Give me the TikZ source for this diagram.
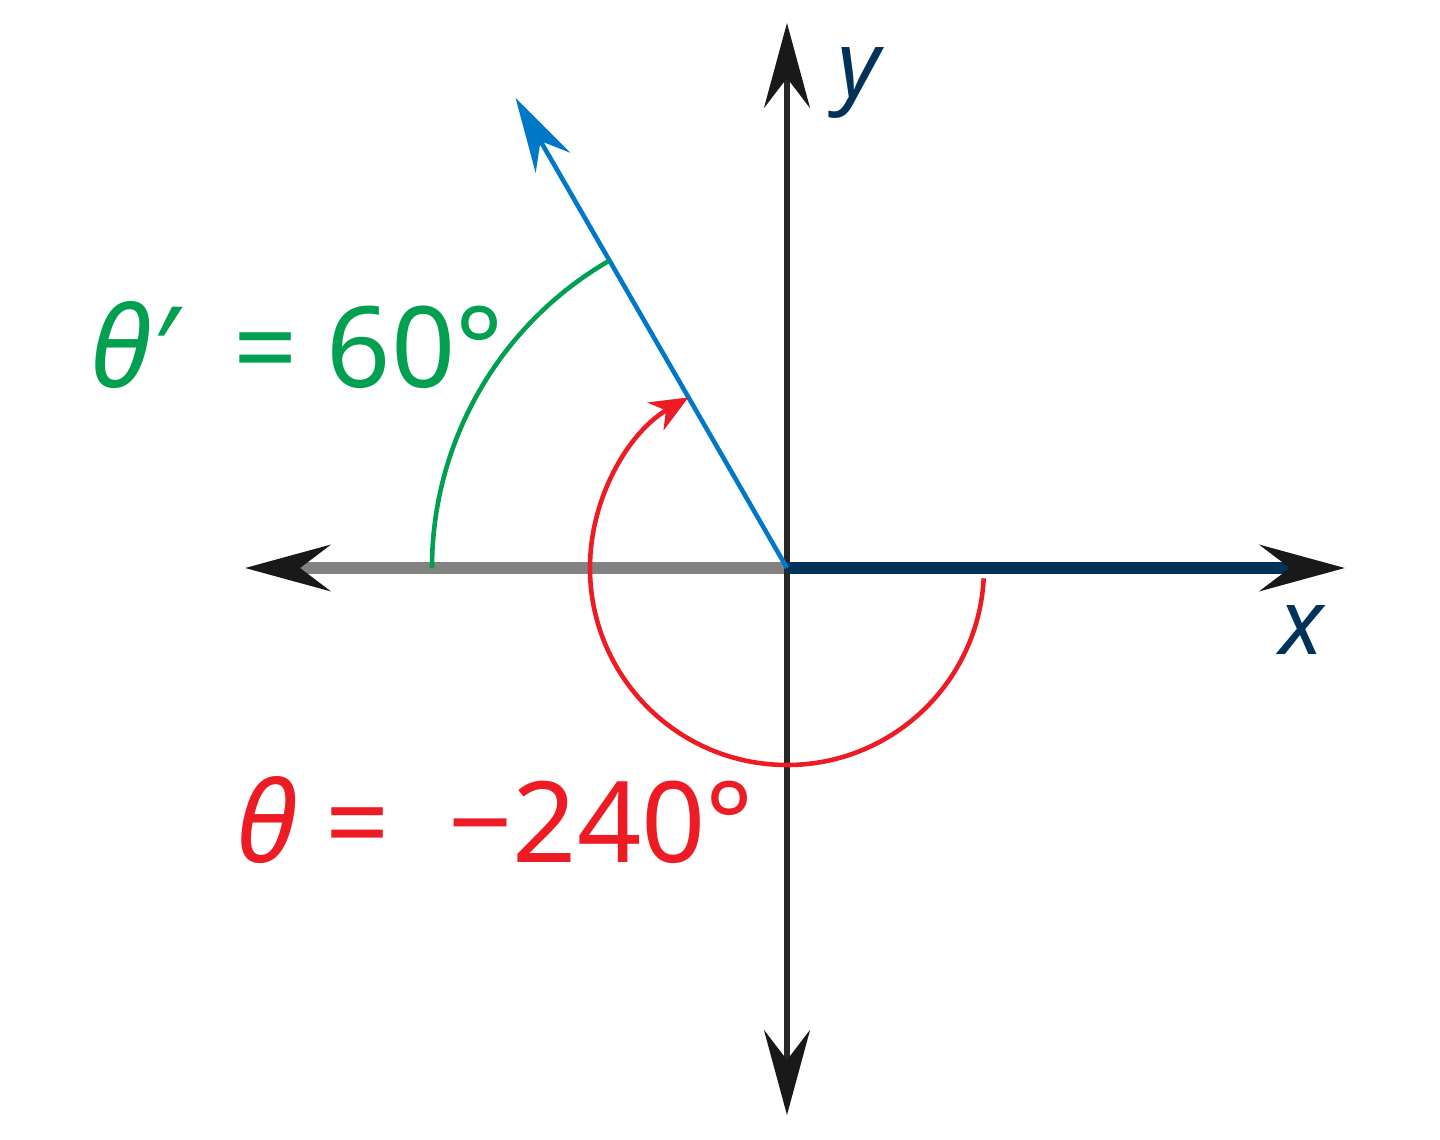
\documentclass[tikz,border=0pt]{standalone}
\usepackage{fontspec}
\setmainfont{Noto Sans}
\usepackage{xcolor}
\usetikzlibrary{arrows.meta}
\definecolor{anglegreen}{RGB}{0,160,80}
\definecolor{anglered}{RGB}{237,28,36}
\definecolor{rayblue}{RGB}{0,120,200}
\definecolor{axisnavy}{RGB}{0,50,90}
\definecolor{axisgray}{RGB}{130,130,130}

\begin{document}
\begin{tikzpicture}[scale=1,
    axistip/.style={-{Stealth[length=0.85cm,width=0.46cm,inset=0.3cm,color=black!90]}},
    lbl/.style={font=\fontsize{32}{38}\selectfont, inner sep=0pt},
    axlbl/.style={font=\fontsize{26}{30}\selectfont\itshape, inner sep=0pt, axisnavy}]
    \useasboundingbox (-7.87,-5.72) rectangle (6.53,5.68);

    % Axes
    \coordinate (O) at (0,0);
    \coordinate (xleft) at (-5.42,0);
    \coordinate (xright) at (5.58,0);
    \coordinate (ytop) at (0,5.45);
    \coordinate (ybot) at (0,-5.47);
    \draw [axisgray, line width=3.2pt, axistip] (O) -- (xleft);
    \draw [black!85, line width=1.6pt, axistip] (O) -- (ytop);
    \draw [black!85, line width=1.6pt, axistip] (O) -- (ybot);
    \draw [axisnavy, line width=3.2pt, axistip] (O) -- (xright);
    \node [axlbl] (ylab) at (0.72,4.85) {y};
    \node [axlbl] (xlab) at (5.15,-0.62) {x};

    % Terminal side
    \coordinate (ray) at (120:5.43);
    \draw [rayblue, line width=1.3pt, -{Stealth[length=0.75cm,width=0.4cm,inset=0.25cm]}] (O) -- (ray);

    % Reference angle
    \draw [anglegreen, line width=1.3pt] (180:3.55) arc (180:120:3.55);
    \node [lbl, anglegreen] (ref) at (-4.9,2.23) {\itshape θ′\upshape\ \ = 60°};

    % Angle
    \draw [anglered, line width=1.3pt, -{Stealth[length=0.38cm,width=0.32cm,inset=0.12cm]}] (-3:1.97) arc (-3:-240:1.97);
    \node [lbl, anglered] (ang) at (-2.92,-2.52) {\itshape θ\upshape\ = \ −240°};
\end{tikzpicture}
\end{document}
